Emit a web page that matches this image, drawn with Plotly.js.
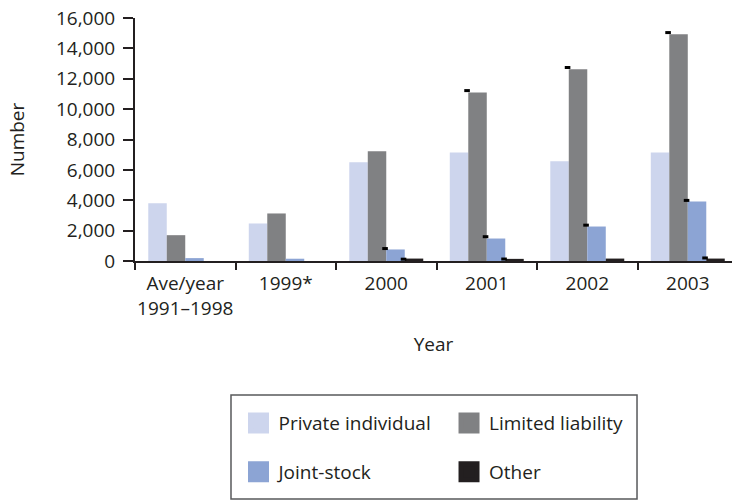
<!DOCTYPE html>
<html>
<head>
<meta charset="utf-8">
<script src="https://cdn.plot.ly/plotly-3.0.1.min.js"></script>
<style>
  html, body { margin: 0; padding: 0; background: #ffffff; }
  #chart { width: 732px; height: 500px; }
</style>
</head>
<body>
<div id="chart"></div>
<script>
// Company registrations by legal form
const categories = ['Ave/year<br>1991\u20131998', '1999*', '2000', '2001', '2002', '2003'];
const seriesNames = ['Private individual', 'Limited liability', 'Joint-stock', 'Other'];

const privateIndividual = [3800, 2470, 6500, 7150, 6560, 7150];
const limitedLiability = [1700, 3130, 7220, 11100, 12620, 14930];
const jointStock = [190, 150, 760, 1480, 2270, 3920];
const other = [0, 0, 160, 140, 160, 160];

// Small black markers sitting at the upper-left corner of some bars
const limitedMarks = [null, null, null, 11220, 12740, 15040];
const jointMarks = [null, null, 820, 1600, 2360, 3990];
const otherMarks = [null, null, 120, 130, null, 200];

const yTicks = [0, 2000, 4000, 6000, 8000, 10000, 12000, 14000, 16000];

const colors = ['#cdd5ed', '#808183', '#8ca4d4', '#231f20'];
const ink = '#231f20';
const fontFamily = '"Open Sans", "Noto Sans", sans-serif';

const bargap = 0.264;
const xRange = [-0.5, 5.44];

const values = [privateIndividual, limitedLiability, jointStock, other];

const traces = [];

// Grouped bars (legend handled by separate marker entries below)
values.forEach(function (vals, i) {
  traces.push({
    type: 'bar',
    x: categories,
    y: vals,
    name: seriesNames[i],
    marker: { color: colors[i], line: { width: 0 } },
    showlegend: false,
    hoverinfo: 'x+y+name'
  });
});

// Corner markers, placed at the left edge of their bar slot
const slot = (1 - bargap) / 4;
function markTrace(vals, seriesIndex) {
  const xs = [], ys = [];
  vals.forEach(function (v, c) {
    if (v === null) return;
    xs.push(c - (1 - bargap) / 2 + seriesIndex * slot - 0.012);
    ys.push(v);
  });
  return {
    type: 'scatter',
    mode: 'markers',
    x: xs,
    y: ys,
    xaxis: 'x2',
    yaxis: 'y',
    marker: { symbol: 'line-ew', size: 4, color: '#000000', line: { color: '#000000', width: 3 } },
    showlegend: false,
    hoverinfo: 'skip'
  };
}
traces.push(markTrace(limitedMarks, 1));
traces.push(markTrace(jointMarks, 2));
traces.push(markTrace(otherMarks, 3));

// Legend entries, one legend each so they sit in a 2x2 grid
const legendIds = ['legend', 'legend2', 'legend3', 'legend4'];
seriesNames.forEach(function (name, i) {
  traces.push({
    type: 'scatter',
    mode: 'markers',
    x: [null],
    y: [null],
    name: name,
    legend: legendIds[i],
    marker: { symbol: 'square', size: 16, color: colors[i], line: { color: colors[i], width: 5 } },
    showlegend: true,
    hoverinfo: 'skip'
  });
});

const legendFont = { family: fontFamily, size: 19, color: ink };
function legendAt(x, y) {
  return {
    x: x, y: y, xanchor: 'left', yanchor: 'middle',
    xref: 'paper', yref: 'paper',
    orientation: 'v', borderwidth: 0, bgcolor: 'rgba(0,0,0,0)',
    font: legendFont
  };
}

const layout = {
  width: 732,
  height: 500,
  margin: { l: 135, r: 0, t: 18, b: 239 },
  paper_bgcolor: '#ffffff',
  plot_bgcolor: '#ffffff',
  font: { family: fontFamily, size: 19, color: ink },
  barmode: 'group',
  bargap: bargap,
  bargroupgap: 0,
  xaxis: {
    type: 'category',
    range: xRange,
    showline: true,
    linecolor: ink,
    linewidth: 2,
    ticks: 'outside',
    tickson: 'boundaries',
    ticklen: 7,
    tickwidth: 2,
    tickcolor: ink,
    tickangle: 0,
    ticklabelstandoff: 4,
    showgrid: false,
    zeroline: false,
    automargin: false,
    tickfont: { family: fontFamily, size: 19, color: ink },
    title: { text: 'Year', font: { family: fontFamily, size: 19, color: ink }, standoff: 18 }
  },
  xaxis2: {
    overlaying: 'x',
    range: xRange,
    visible: false,
    fixedrange: true
  },
  yaxis: {
    range: [0, 16000],
    tickvals: yTicks,
    tickformat: ',d',
    showline: true,
    linecolor: ink,
    linewidth: 2,
    ticks: 'outside',
    ticklen: 10,
    tickwidth: 2,
    tickcolor: ink,
    ticklabelstandoff: 4,
    showgrid: false,
    zeroline: false,
    automargin: false,
    tickfont: { family: fontFamily, size: 19, color: ink },
    title: { text: 'Number', font: { family: fontFamily, size: 19, color: ink }, standoff: 26 }
  },
  legend: legendAt(0.1734, -0.667),
  legend2: legendAt(0.526, -0.667),
  legend3: legendAt(0.1734, -0.868),
  legend4: legendAt(0.526, -0.868),
  shapes: [{
    type: 'rect', xref: 'paper', yref: 'paper',
    x0: 0.1608, x1: 0.8409, y0: -0.979, y1: -0.551,
    line: { color: '#58595b', width: 1.5 },
    fillcolor: 'rgba(0,0,0,0)'
  }],
  showlegend: true
};

Plotly.newPlot('chart', traces, layout, { displayModeBar: false, staticPlot: true });
</script>
</body>
</html>
